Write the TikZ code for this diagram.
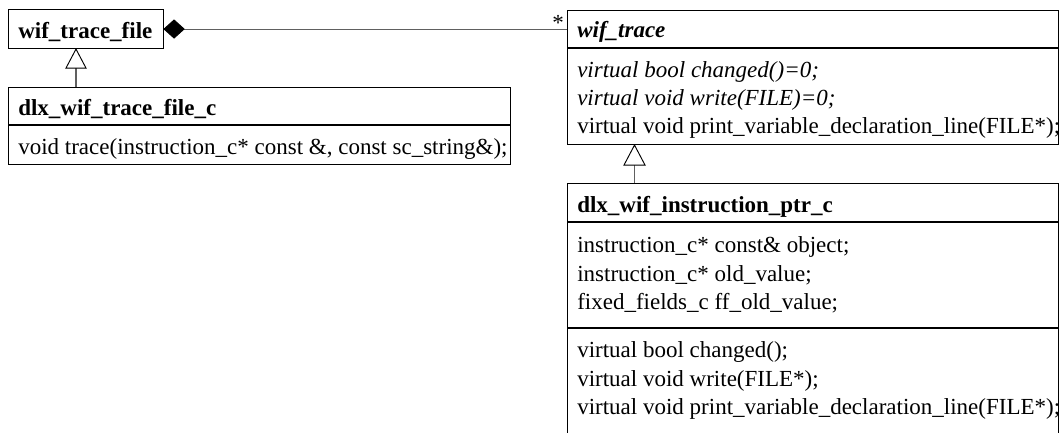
\documentclass[tikz,border=0pt]{standalone}
\usepackage{fontspec}
\setmainfont{Liberation Serif}
\definecolor{connc}{HTML}{606060}
\begin{document}
\begin{tikzpicture}[x=0.75pt,y=-0.75pt,
  classbox/.style={draw=black,line width=0.8pt,fill=none,inner sep=0pt,anchor=north west},
  txt/.style={inner sep=0pt,anchor=base west,font=\fontsize{17.25}{20}\selectfont},
  divider/.style={draw=black,line width=0.8pt},
  conn/.style={draw=connc,line width=0.8pt},
  inh/.style={draw=black,line width=0.7pt,fill=white},
  comp/.style={draw=black,line width=0.7pt,fill=black}]
\useasboundingbox (0,0) rectangle (1062,432);
% boxes
\node[classbox,minimum width=155*0.75pt,minimum height=39*0.75pt] (A) at (8,9) {};
\node[classbox,minimum width=502*0.75pt,minimum height=77*0.75pt] (B) at (8,87) {};
\node[classbox,minimum width=491*0.75pt,minimum height=134*0.75pt] (C) at (567,10) {};
\node[classbox,minimum width=491*0.75pt,minimum height=270*0.75pt] (D) at (567,183) {};
% dividers
\draw[divider] (8,125) -- (510,125);
\draw[divider] (567,48) -- (1058,48);
\draw[divider] (567,222) -- (1058,222);
\draw[divider] (567,328) -- (1058,328);
% texts
\node[txt] (At) at (18,38) {\textbf{wif\_trace\_file}};
\node[txt] (Bt) at (18,115) {\textbf{dlx\_wif\_trace\_file\_c}};
\node[txt] (Bm) at (18,154) {void trace(instruction\_c* const \&, const sc\_string\&);};
\node[txt] (Ct) at (577,37) {\textbf{\textit{wif\_trace}}};
\node[txt] (Cm1) at (577,77) {\textit{virtual bool changed()=0;}};
\node[txt] (Cm2) at (577,105) {\textit{virtual void write(FILE)=0;}};
\node[txt] (Cm3) at (577,133) {virtual void print\_variable\_declaration\_line(FILE*);};
\node[txt] (Dt) at (577,212) {\textbf{dlx\_wif\_instruction\_ptr\_c}};
\node[txt] (Da1) at (577,252) {instruction\_c* const\& object;};
\node[txt] (Da2) at (577,281) {instruction\_c* old\_value;};
\node[txt] (Da3) at (577,309) {fixed\_fields\_c ff\_old\_value;};
\node[txt] (Dm1) at (577,357) {virtual bool changed();};
\node[txt] (Dm2) at (577,386) {virtual void write(FILE*);};
\node[txt] (Dm3) at (577,414) {virtual void print\_variable\_declaration\_line(FILE*);};
% composition wif_trace_file <>-- * wif_trace
\draw[conn] (A.east) ++(20,0) -- (A.east -| C.west);
\draw[comp] (A.east) -- ++(10,-9) -- ++(10,9) -- ++(-10,9) -- cycle;
\node[txt] (mult) at (552,30) {*};
% generalization dlx_wif_trace_file_c -> wif_trace_file
\coordinate (t1) at (A.south west -| 76,0);
\draw[conn] (B.north west -| t1) -- ++(0,-20);
\draw[inh] (t1) -- ++(10,19) -- ++(-20,0) -- cycle;
% generalization dlx_wif_instruction_ptr_c -> wif_trace
\coordinate (t2) at (C.south west -| 634.5,0);
\draw[conn] (D.north west -| t2) -- ++(0,-19);
\draw[inh] (t2) -- ++(10.5,20) -- ++(-21,0) -- cycle;
\end{tikzpicture}
\end{document}
